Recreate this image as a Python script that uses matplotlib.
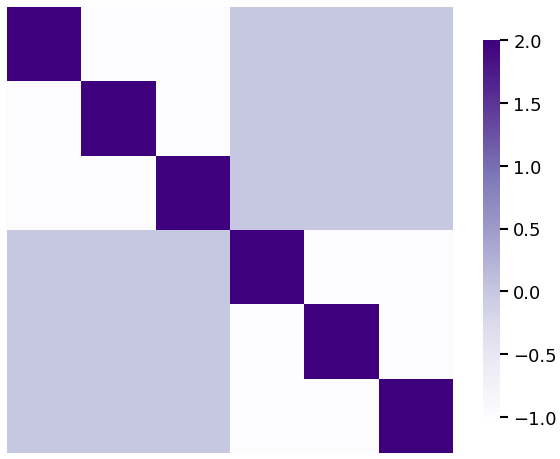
import numpy as np
import matplotlib.pyplot as plt
import seaborn as sns

# block correlation-like matrix: diag 2, same block -1, cross block 0
diag_val = 2.0
same_block = -1.0
cross_block = 0.0
groups = [0, 0, 0, 1, 1, 1]

n = len(groups)
mat = np.array([[diag_val if i == j else (same_block if groups[i] == groups[j] else cross_block)
                 for j in range(n)] for i in range(n)])

fig = plt.figure(figsize=(5.6, 4.6), dpi=100)
ax = fig.add_axes([7 / 560, 1 - 454 / 460, 446 / 560, 446 / 460])
cax = fig.add_axes([483 / 560, 1 - 418 / 460, 17 / 560, 377 / 460])

sns.heatmap(mat, cmap="Purples", vmin=-1, vmax=2, ax=ax, cbar_ax=cax,
            xticklabels=False, yticklabels=False)
cax.set_yticks([-1.0, -0.5, 0.0, 0.5, 1.0, 1.5, 2.0])
cax.tick_params(labelsize=13, length=6, width=1.5)
for s in cax.spines.values():
    s.set_visible(False)

fig.savefig("out.png", dpi=100)
